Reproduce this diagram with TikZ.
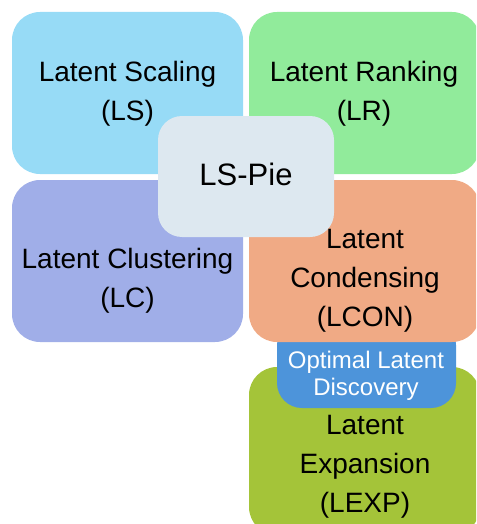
\documentclass[tikz,border=0pt]{standalone}
\usepackage{fontspec}
\setmainfont{Liberation Sans}
\definecolor{lsc}{RGB}{151,219,246}
\definecolor{lrc}{RGB}{145,235,155}
\definecolor{lcc}{RGB}{160,174,232}
\definecolor{lconc}{RGB}{240,170,133}
\definecolor{pie}{RGB}{221,232,240}
\definecolor{optc}{RGB}{77,148,218}
\definecolor{lexpc}{RGB}{164,196,57}
\begin{document}
\begin{tikzpicture}[x=1pt,y=-1pt,
  box/.style={rectangle, rounded corners=28pt, draw=none, inner sep=0pt, outer sep=0pt},
  maintext/.style={align=center, font=\fontsize{28}{39}\selectfont, text=black, inner sep=0pt},
  opttext/.style={align=center, font=\fontsize{24}{27}\selectfont, text=white, inner sep=0pt},
  pietext/.style={font=\fontsize{31}{36}\selectfont, text=black, inner sep=0pt}]
\useasboundingbox (0,0) rectangle (476,524);
\begin{scope}
\clip (0,0) rectangle (476,524);
% back to front
\node[box, fill=lexpc, minimum width=231pt, minimum height=168pt] (lexp) at (364.5,451) {};
\node[box, fill=optc, rounded corners=25pt, minimum width=179pt, minimum height=88pt] (opt) at (366.5,364) {};
\node[box, fill=lconc, minimum width=231pt, minimum height=162pt] (lcon) at (364.5,261) {};
\node[box, fill=lsc, minimum width=231pt, minimum height=162pt] (ls) at (127.5,93) {};
\node[box, fill=lrc, minimum width=231pt, minimum height=162pt] (lr) at (364.5,93) {};
\node[box, fill=lcc, minimum width=231pt, minimum height=162pt] (lc) at (127.5,261) {};
\node[box, fill=pie, rounded corners=24pt, minimum width=176pt, minimum height=121pt] (pie) at (246,176.5) {};
\end{scope}
% texts
\node[maintext] (lstext) at (127.5,93.5) {Latent Scaling\\(LS)};
\node[maintext] (lrtext) at (364,93.5) {Latent Ranking\\(LR)};
\node[maintext] (lctext) at (127.5,281) {Latent Clustering\\(LC)};
\node[maintext] (lcontext) at (365,281) {Latent\\Condensing\\(LCON)};
\node[maintext] (lexptext) at (365,467) {Latent\\Expansion\\(LEXP)};
\node[opttext] (opttxt) at (366,376) {Optimal Latent\\Discovery};
\node[pietext] (pietxt) at (246,174) {LS-Pie};
\end{tikzpicture}
\end{document}
